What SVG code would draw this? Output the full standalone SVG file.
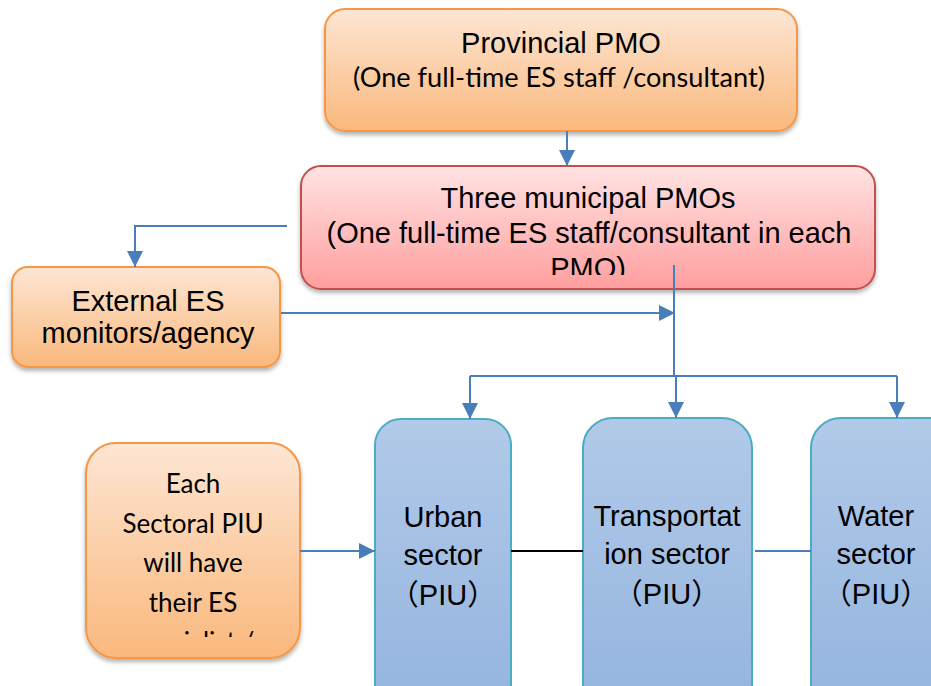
<svg xmlns="http://www.w3.org/2000/svg" width="931" height="686" viewBox="0 0 931 686">
<defs>
<linearGradient id="gOrange" x1="0" y1="0" x2="0" y2="1">
<stop offset="0" stop-color="#fde6d4"/>
<stop offset="1" stop-color="#fab87c"/>
</linearGradient>
<linearGradient id="gRed" x1="0" y1="0" x2="0" y2="1">
<stop offset="0" stop-color="#ffe3e3"/>
<stop offset="1" stop-color="#ff9e9e"/>
</linearGradient>
<linearGradient id="gBlue" x1="0" y1="0" x2="0" y2="1">
<stop offset="0" stop-color="#b1cae8"/>
<stop offset="1" stop-color="#93b3df"/>
</linearGradient>
<filter id="shadow" x="-10%" y="-10%" width="120%" height="130%">
<feDropShadow dx="0" dy="3" stdDeviation="2" flood-color="#000" flood-opacity="0.3"/>
</filter>
<marker id="arrow" markerUnits="userSpaceOnUse" markerWidth="16" markerHeight="16" viewBox="0 0 16 16" refX="16" refY="8" orient="auto">
<path d="M0,0 L16,8 L0,16 Z" fill="#4a7ebb"/>
</marker>
<clipPath id="clipMid"><rect x="301" y="166" width="574" height="109"/></clipPath>
<clipPath id="clipEach"><rect x="86" y="443" width="214" height="194"/></clipPath>
</defs>
<style>
.orange{fill:url(#gOrange);stroke:#f79646;stroke-width:2}
.red{fill:url(#gRed);stroke:#c0504d;stroke-width:2}
.blue{fill:url(#gBlue);stroke:#4bacc6;stroke-width:2}
.arial{font-family:"Liberation Sans",Arial,sans-serif;font-size:29px;fill:#000;text-anchor:middle}
.cal{font-family:Lato,"Open Sans",sans-serif;font-size:26px;fill:#000;text-anchor:middle}
.cjk{font-family:"Liberation Sans","Noto Sans CJK SC",sans-serif;font-size:29px;fill:#000;text-anchor:middle}
.conn{fill:none;stroke:#4a7ebb;stroke-width:2}
.black{fill:none;stroke:#000;stroke-width:2}
</style>

<g id="provincial">
<rect class="orange" x="325" y="9" width="472" height="122" rx="20" filter="url(#shadow)"/>
<text class="arial" x="561" y="53">Provincial PMO</text>
<text class="cal" x="559" y="87" textLength="412" lengthAdjust="spacingAndGlyphs">(One full-time ES staff /consultant)</text>
</g>

<g id="municipal">
<rect class="red" x="301" y="166" width="574" height="123" rx="20" filter="url(#shadow)"/>
<g clip-path="url(#clipMid)">
<text class="arial" x="588" y="208">Three municipal PMOs</text>
<text class="arial" x="589" y="243">(One full-time ES staff/consultant in each</text>
<text class="arial" x="588" y="278">PMO)</text>
</g>
</g>

<g id="external">
<rect class="orange" x="12" y="267" width="268" height="100" rx="16" filter="url(#shadow)"/>
<text class="arial" x="148" y="311">External ES</text>
<text class="arial" x="148" y="343">monitors/agency</text>
</g>

<g id="each">
<rect class="orange" x="86" y="443" width="214" height="215" rx="30" filter="url(#shadow)"/>
<g clip-path="url(#clipEach)">
<text class="cal" x="193" y="493">Each</text>
<text class="cal" x="193" y="533">Sectoral PIU</text>
<text class="cal" x="193" y="572">will have</text>
<text class="cal" x="193" y="612">their ES</text>
<text class="cal" x="193" y="651">specialist /</text>
</g>
</g>

<g id="urban">
<rect class="blue" x="375" y="419" width="136" height="300" rx="26"/>
<text class="arial" x="443" y="527">Urban</text>
<text class="arial" x="443" y="565">sector</text>
<text class="cjk" x="443" y="605">（PIU）</text>
</g>

<g id="transport">
<rect class="blue" x="583" y="418" width="169" height="300" rx="30"/>
<text class="arial" x="667" y="526">Transportat</text>
<text class="arial" x="667" y="564">ion sector</text>
<text class="cjk" x="667" y="604">（PIU）</text>
</g>

<g id="water">
<rect class="blue" x="811" y="418" width="150" height="300" rx="30"/>
<text class="arial" x="876" y="526">Water</text>
<text class="arial" x="876" y="564">sector</text>
<text class="cjk" x="876" y="604">（PIU）</text>
</g>

<g id="connectors">
<path class="conn" d="M567,131 V166" marker-end="url(#arrow)"/>
<path class="conn" d="M287,226 H135 V267" marker-end="url(#arrow)"/>
<path class="conn" d="M281,313 H675" marker-end="url(#arrow)"/>
<path class="conn" d="M674,265 V376"/>
<path class="conn" d="M470,376 H897"/>
<path class="conn" d="M470,376 V419" marker-end="url(#arrow)"/>
<path class="conn" d="M676,376 V418" marker-end="url(#arrow)"/>
<path class="conn" d="M897,376 V418" marker-end="url(#arrow)"/>
<path class="conn" d="M300,551 H375" marker-end="url(#arrow)"/>
<path class="black" d="M511,551 H583"/>
<path class="conn" d="M755,551 H811"/>
</g>
</svg>
